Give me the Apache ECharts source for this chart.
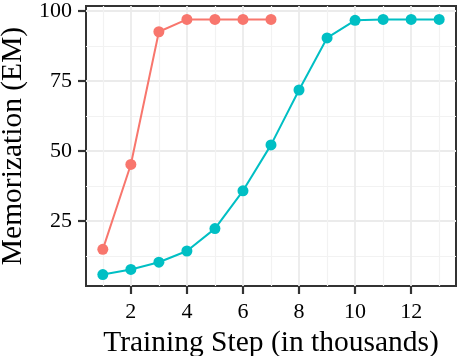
<!DOCTYPE html>
<html><head><meta charset="utf-8">
<script src="https://cdn.jsdelivr.net/npm/echarts@6/dist/echarts.min.js"></script>
<style>html,body{margin:0;padding:0;background:#fff}#c{width:458px;height:356px}</style>
</head><body><div id="c"></div>
<script>
const redSteps = [1, 2, 3, 4, 5, 6, 7];
const redValues = [14.8, 45.1, 92.5, 96.9, 96.9, 96.9, 96.9];
const tealSteps = [1, 2, 3, 4, 5, 6, 7, 8, 9, 10, 11, 12, 13];
const tealValues = [5.8, 7.6, 10.2, 14.2, 22.2, 35.7, 52.1, 71.7, 90.3, 96.6, 96.9, 96.9, 96.9];
const xMajorTicks = [2, 4, 6, 8, 10, 12];
const xMinorTicks = [1, 3, 5, 7, 9, 11, 13];
const yMajorTicks = [25, 50, 75, 100];
const yMinorTicks = [12.5, 37.5, 62.5, 87.5];
const xTitle = 'Training Step (in thousands)';
const yTitle = 'Memorization (EM)';

const FONT = 'Liberation Serif';
const X_MIN = 0.4, X_MAX = 13.6, Y_MIN = 1.7, Y_MAX = 101.7;
const grid = {left: 86, top: 6, right: 2, bottom: 70, show: true, borderColor: '#333', borderWidth: 2,
  containLabel: false, outerBoundsMode: 'none'};

function zip(xs, ys){ return xs.map((x,i)=>[x, ys[i]]); }

const chart = echarts.init(document.getElementById('c'), null, {renderer: 'canvas'});
chart.setOption({
  animation: false,
  backgroundColor: '#fff',
  grid: grid,
  xAxis: [
    {type: 'value', min: X_MIN, max: X_MAX,
     axisLine: {show: false},
     axisTick: {show: true, length: 8, lineStyle: {color: '#333', width: 2.2}, customValues: xMajorTicks},
     axisLabel: {customValues: xMajorTicks, color: '#000', fontFamily: FONT, fontSize: 22, margin: 15},
     splitLine: {show: true, lineStyle: {color: '#EBEBEB', width: 1.8}},
     name: xTitle, nameLocation: 'middle', nameGap: 37,
     nameTextStyle: {color: '#000', fontFamily: FONT, fontSize: 29.5}},
    {type: 'value', min: X_MIN, max: X_MAX, position: 'bottom',
     axisLine: {show: false},
     axisTick: {show: false, customValues: xMinorTicks},
     axisLabel: {show: false, customValues: xMinorTicks},
     splitLine: {show: true, lineStyle: {color: '#F2F2F2', width: 1.2}}}
  ],
  yAxis: [
    {type: 'value', min: Y_MIN, max: Y_MAX,
     axisLine: {show: false},
     axisTick: {show: true, length: 8, lineStyle: {color: '#333', width: 2.2}, customValues: yMajorTicks},
     axisLabel: {customValues: yMajorTicks, color: '#000', fontFamily: FONT, fontSize: 22, margin: 14},
     splitLine: {show: true, lineStyle: {color: '#EBEBEB', width: 1.8}},
     name: yTitle, nameLocation: 'middle', nameGap: 56, nameRotate: 90,
     nameTextStyle: {color: '#000', fontFamily: FONT, fontSize: 29.5}},
    {type: 'value', min: Y_MIN, max: Y_MAX,
     axisLine: {show: false},
     axisTick: {show: false, customValues: yMinorTicks},
     axisLabel: {show: false, customValues: yMinorTicks},
     splitLine: {show: true, lineStyle: {color: '#F2F2F2', width: 1.2}}}
  ],
  series: [
    {type: 'line', data: zip(tealSteps, tealValues), xAxisIndex: 0, yAxisIndex: 0,
     symbol: 'circle', symbolSize: 11, itemStyle: {color: '#00BFC4'},
     lineStyle: {color: '#00BFC4', width: 2}, z: 3},
    {type: 'line', data: zip(redSteps, redValues), xAxisIndex: 0, yAxisIndex: 0,
     symbol: 'circle', symbolSize: 11, itemStyle: {color: '#F8766D'},
     lineStyle: {color: '#F8766D', width: 2}, z: 4}
  ]
});
</script></body></html>
